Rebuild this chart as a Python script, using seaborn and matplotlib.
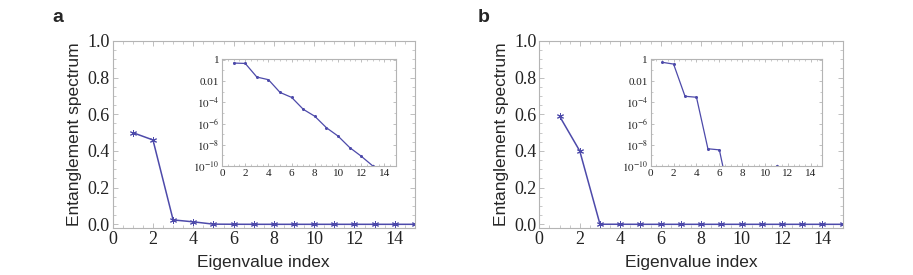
import numpy as np
import pandas as pd
import matplotlib
matplotlib.use("Agg")
import matplotlib.pyplot as plt
import seaborn as sns
from matplotlib.ticker import MultipleLocator, FixedLocator, NullFormatter

sns.set_style("ticks")
plt.rcParams["mathtext.fontset"] = "stix"

# ---- data ----
index = list(range(1, 16))
spectrum_a = [0.50, 0.46, 0.024, 0.0135, 8.5e-4, 2.9e-4, 2.2e-5, 4.8e-6,
              4.0e-7, 6.6e-8, 5.5e-9, 8.3e-10, 1.0e-10, 1.5e-11, 2.0e-12]
spectrum_b = [0.59, 0.40, 3.7e-4, 3.0e-4, 4.2e-9, 3.3e-9, 3.0e-14, 1.0e-15,
              1.0e-15, 1.0e-15, 1.0e-10, 1.0e-15, 1.0e-15, 1.0e-15, 1.0e-15]
panel_labels = ["a", "b"]
xlabel = "Eigenvalue index"
ylabel = "Entanglement spectrum"
main_yticks = [0.0, 0.2, 0.4, 0.6, 0.8, 1.0]
main_xticks = [0, 2, 4, 6, 8, 10, 12, 14]
inset_yticks = [1, 1e-2, 1e-4, 1e-6, 1e-8, 1e-10]
inset_yticklabels = ["1", "0.01", "$10^{-4}$", "$10^{-6}$", "$10^{-8}$", "$10^{-10}$"]

LINE = "#4d4aaa"
FRAME = "#b4b4b4"
SERIF = "Liberation Serif"
SANS = "Liberation Sans"

fig = plt.figure(figsize=(9.13, 2.75), dpi=100)

main_pos = [[0.1234, 0.171, 0.3311, 0.680], [0.5907, 0.171, 0.3323, 0.680]]
inset_pos = [[0.2432, 0.3964, 0.1906, 0.389], [0.7127, 0.3964, 0.1880, 0.389]]
label_pos = [(0.057, 0.935), (0.5235, 0.935)]


def style_frame(ax, size):
    for s in ax.spines.values():
        s.set_color(FRAME)
        s.set_linewidth(0.8)
    ax.tick_params(which="both", direction="in", top=True, right=True,
                   color=FRAME, labelsize=size, pad=2,
                   labelfontfamily=SERIF, labelcolor="#222222")
    ax.tick_params(which="major", length=3.5, width=0.6)
    ax.tick_params(which="minor", length=2, width=0.5)


for k, vals in enumerate([spectrum_a, spectrum_b]):
    df = pd.DataFrame({"idx": index, "val": vals})
    ax = fig.add_axes(main_pos[k])
    sns.lineplot(data=df, x="idx", y="val", ax=ax, color=LINE, lw=1.1,
                 marker=(6, 2, 0), markersize=5, markeredgecolor=LINE,
                 markeredgewidth=0.7)
    ax.set_xlim(0, 15)
    ax.set_ylim(-0.02, 1.0)
    ax.xaxis.set_major_locator(FixedLocator(main_xticks))
    ax.xaxis.set_minor_locator(MultipleLocator(0.5))
    ax.yaxis.set_major_locator(FixedLocator(main_yticks))
    ax.yaxis.set_minor_locator(MultipleLocator(0.05))
    ax.set_yticklabels([f"{v:.1f}" for v in main_yticks])
    style_frame(ax, 13)
    ax.set_xlabel(xlabel, family=SANS, fontsize=12.5, labelpad=5)
    ax.set_ylabel(ylabel, family=SANS, fontsize=12.5, labelpad=4)
    fig.text(label_pos[k][0], label_pos[k][1], panel_labels[k], family=SANS,
             fontweight="bold", fontsize=14, va="center")

    ins = fig.add_axes(inset_pos[k])
    sns.lineplot(data=df, x="idx", y="val", ax=ins, color=LINE, lw=0.9,
                 marker="o", markersize=2.2, markeredgewidth=0)
    ins.set_yscale("log")
    ins.set_xlim(0, 15)
    ins.set_ylim(1e-10, 1.2)
    ins.xaxis.set_major_locator(FixedLocator(main_xticks))
    ins.xaxis.set_minor_locator(MultipleLocator(0.5))
    ins.yaxis.set_major_locator(FixedLocator(inset_yticks))
    ins.set_yticklabels(inset_yticklabels)
    ins.yaxis.set_minor_locator(FixedLocator([10.0 ** (-e) for e in range(0, 11)]))
    ins.yaxis.set_minor_formatter(NullFormatter())
    ins.set_xlabel("")
    ins.set_ylabel("")
    style_frame(ins, 8)
    ins.tick_params(which="major", length=2.5)
    ins.tick_params(which="minor", length=1.5)

fig.savefig("out.png", dpi=100)
